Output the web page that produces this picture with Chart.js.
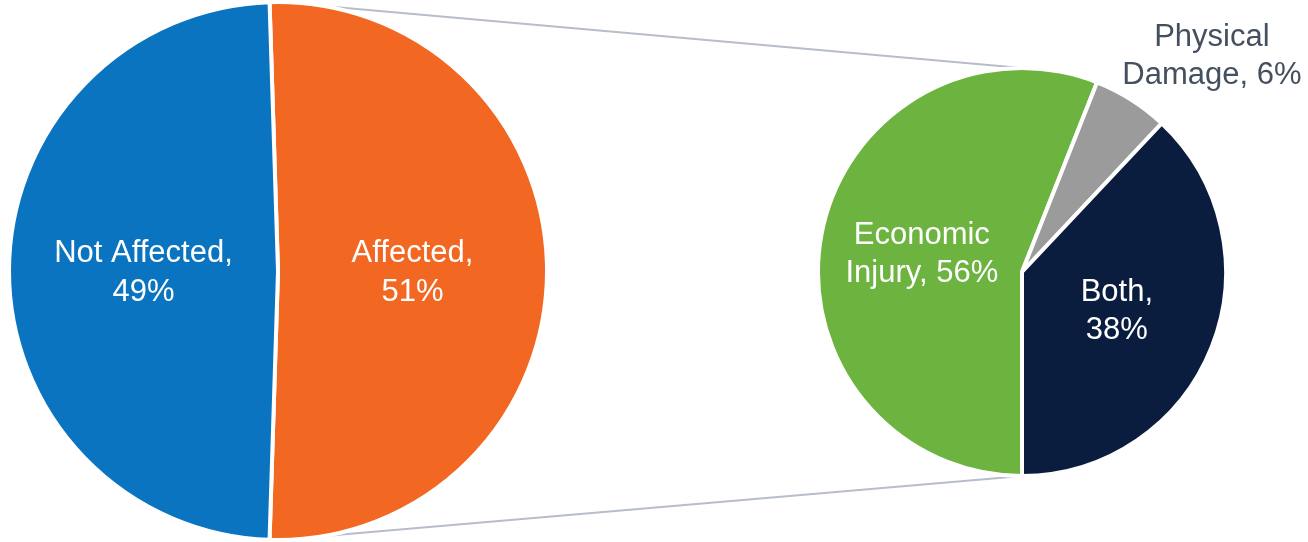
<!DOCTYPE html>
<html>
<head>
<meta charset="utf-8">
<title>Affected share breakdown</title>
<script src="https://cdn.jsdelivr.net/npm/chart.js@4.4.0/dist/chart.umd.min.js"></script>
<style>
    body { margin: 0; background: #ffffff; }
    #stage { position: relative; width: 1308px; height: 542px; overflow: hidden; }
    #linhas { position: absolute; left: 0; top: 0; }
    #caixaGeral { position: absolute; left: 7px; top: 0; width: 542px; height: 542px; }
    #caixaDetalhe { position: absolute; left: 700px; top: 0; width: 608px; height: 542px; }
</style>
</head>
<body>
<div id="stage">
    <canvas id="linhas" width="1308" height="542"></canvas>
    <div id="caixaGeral"><canvas id="graficoGeral"></canvas></div>
    <div id="caixaDetalhe"><canvas id="graficoDetalhe"></canvas></div>
</div>
<script>
// overall split
var categoriasGeral = [['Affected'], ['Not Affected']];
var valoresGeral = [51, 49];
var coresGeral = ['#F26722', '#0A74C0'];

// breakdown of the affected share
var categoriasDetalhe = [['Economic', 'Injury'], ['Physical', 'Damage'], ['Both']];
var valoresDetalhe = [56, 6, 38];
var coresDetalhe = ['#6DB33F', '#9B9B9B', '#0B1D3F'];

var fonte = '"Liberation Sans", Arial, sans-serif';

// "Name, 49%" -> single word names get the value on a line of its own
function montarLinhas(nome, valor) {
    if (nome.length == 1) {
        return [nome[0] + ',', valor + '%'];
    }
    let linhas = nome.slice(0, -1);
    linhas.push(nome[nome.length - 1] + ', ' + valor + '%');
    return linhas;
}

const rotulosFatia = {
    id: 'rotulosFatia',
    afterDatasetsDraw(chart, args, opts) {
        const ctx = chart.ctx;
        const meta = chart.getDatasetMeta(0);
        const valores = chart.data.datasets[0].data;
        const alturaLinha = opts.size * 1.23;

        ctx.save();
        ctx.font = `${opts.size}px ${fonte}`;
        ctx.textAlign = 'center';
        ctx.textBaseline = 'middle';

        meta.data.forEach(function (arco, i) {
            const p = arco.getProps(['x', 'y', 'startAngle', 'endAngle', 'outerRadius'], true);
            const meio = (p.startAngle + p.endAngle) / 2;
            const linhas = montarLinhas(chart.data.labels[i], valores[i]);
            const larguraBloco = Math.max(...linhas.map(l => ctx.measureText(l).width));
            const alturaBloco = linhas.length * alturaLinha;
            let cx, cy;

            if (valores[i] < 10) {
                // small slices get their label outside the rim, corner next to the arc
                const ex = p.x + Math.cos(meio) * p.outerRadius + opts.foraDx;
                const ey = p.y + Math.sin(meio) * p.outerRadius + opts.foraDy;
                cx = ex + Math.sign(Math.cos(meio)) * larguraBloco / 2;
                cy = ey + Math.sign(Math.sin(meio)) * alturaBloco / 2;
                ctx.fillStyle = opts.corFora;
            } else {
                cx = p.x + Math.cos(meio) * p.outerRadius * opts.fator;
                cy = p.y + Math.sin(meio) * p.outerRadius * opts.fator + 2;
                ctx.fillStyle = '#ffffff';
            }

            linhas.forEach(function (linha, k) {
                const y = cy - alturaBloco / 2 + alturaLinha * (k + 0.5);
                ctx.fillText(linha, cx, y);
            });
        });
        ctx.restore();
    }
};

function opcoesPizza(rotacao, fator, padding) {
    return {
        responsive: true,
        maintainAspectRatio: false,
        animation: false,
        rotation: rotacao,
        layout: { padding: padding },
        plugins: {
            legend: { display: false },
            tooltip: { enabled: false },
            rotulosFatia: { size: 31, fator: fator, corFora: '#44505E', foraDx: -9, foraDy: -5 }
        }
    };
}

// first slice centred on the right side, like a pie-of-pie
let rotacaoGeral = 90 - valoresGeral[0] * 1.8;

let graficoGeral = new Chart(document.getElementById('graficoGeral'), {
    type: 'pie',
    data: {
        labels: categoriasGeral,
        datasets: [{
            data: valoresGeral,
            backgroundColor: coresGeral,
            borderColor: '#ffffff',
            borderWidth: 4
        }]
    },
    options: opcoesPizza(rotacaoGeral, 0.5, 0),
    plugins: [rotulosFatia]
});

// extra room on the right and top keeps the outside label inside the canvas
let graficoDetalhe = new Chart(document.getElementById('graficoDetalhe'), {
    type: 'pie',
    data: {
        labels: categoriasDetalhe,
        datasets: [{
            data: valoresDetalhe,
            backgroundColor: coresDetalhe,
            borderColor: '#ffffff',
            borderWidth: 4
        }]
    },
    options: opcoesPizza(180, 0.5, { left: 116, right: 80, top: 66, bottom: 64 }),
    plugins: [rotulosFatia]
});

// connector lines between the two pies
function desenharLinhas() {
    const ctx = document.getElementById('linhas').getContext('2d');
    const a = graficoGeral.getDatasetMeta(0).data[0];
    const b = graficoDetalhe.getDatasetMeta(0).data[0];
    const ax = a.x + 7, ay = a.y;
    const bx = b.x + 700, by = b.y;

    ctx.strokeStyle = '#B7BEC9';
    ctx.lineWidth = 2;
    ctx.beginPath();
    ctx.moveTo(ax, ay - a.outerRadius);
    ctx.lineTo(bx, by - b.outerRadius);
    ctx.moveTo(ax, ay + a.outerRadius);
    ctx.lineTo(bx, by + b.outerRadius);
    ctx.stroke();
}

desenharLinhas();
</script>
</body>
</html>
